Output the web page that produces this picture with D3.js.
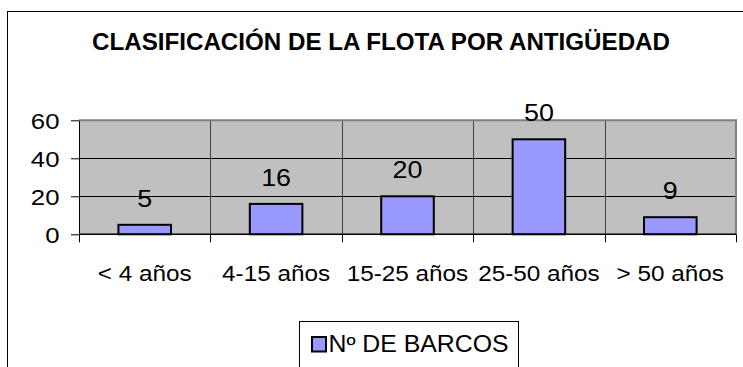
<!DOCTYPE html>
<html>
<head>
<meta charset="utf-8">
<script src="https://cdn.jsdelivr.net/npm/d3@7/dist/d3.min.js"></script>
<style>
  html, body { margin: 0; padding: 0; background: #fff; }
  svg { display: block; font-family: Arial, "Liberation Sans", sans-serif; }
</style>
</head>
<body>
<svg id="chart" width="743" height="367"></svg>
<script>
// Fleet classification by age
const chartTitle = "CLASIFICACIÓN DE LA FLOTA POR ANTIGÜEDAD";
const categories = ["< 4 años", "4-15 años", "15-25 años", "25-50 años", "> 50 años"];
const barcos = [5, 16, 20, 50, 9];
const seriesName = "Nº DE BARCOS";
const yTicks = [0, 20, 40, 60];

const svg = d3.select("#chart");

const plot = { left: 79, right: 736, top: 120.3, bottom: 234.3 };

const x = d3.scaleBand()
  .domain(categories)
  .range([plot.left, plot.right])
  .paddingInner(0.6)
  .paddingOuter(0.3);

const y = d3.scaleLinear()
  .domain([0, 60])
  .range([plot.bottom, plot.top]);

function label(parent, px, py, txt, size, sx, anchor) {
  return parent.append("text")
    .attr("transform", `translate(${px},${py}) scale(${sx},1)`)
    .attr("text-anchor", anchor)
    .attr("font-size", size)
    .attr("fill", "#000")
    .text(txt);
}

// chart frame
svg.append("rect")
  .attr("x", 7.5).attr("y", 11.5)
  .attr("width", 800).attr("height", 400)
  .attr("fill", "#fff").attr("stroke", "#000").attr("stroke-width", 1);

// title
svg.append("text")
  .attr("x", 92).attr("y", 49.5)
  .attr("font-size", 23).attr("font-weight", "bold")
  .attr("textLength", 578).attr("lengthAdjust", "spacingAndGlyphs")
  .text(chartTitle);

// plot background
svg.append("rect")
  .attr("x", plot.left).attr("y", plot.top)
  .attr("width", plot.right - plot.left).attr("height", plot.bottom - plot.top)
  .attr("fill", "#C0C0C0");

// horizontal gridlines
svg.append("g").selectAll("line")
  .data(yTicks.filter(d => d > 0 && d < 60))
  .join("line")
  .attr("x1", plot.left).attr("x2", plot.right)
  .attr("y1", d => Math.round(y(d)) + 0.5).attr("y2", d => Math.round(y(d)) + 0.5)
  .attr("stroke", "#000").attr("stroke-width", 1);

// category boundaries
const bounds = d3.range(categories.length + 1).map(i => x.range()[0] + i * x.step());
svg.append("g").selectAll("line")
  .data(bounds.slice(1, -1))
  .join("line")
  .attr("x1", d => Math.round(d) + 0.5).attr("x2", d => Math.round(d) + 0.5)
  .attr("y1", plot.top).attr("y2", plot.bottom)
  .attr("stroke", "#404040").attr("stroke-width", 1);

// plot border (top / right)
svg.append("path")
  .attr("d", `M${plot.left},${plot.top} H${plot.right} V${plot.bottom}`)
  .attr("fill", "none").attr("stroke", "#808080").attr("stroke-width", 2);

// bars
svg.append("g").selectAll("rect")
  .data(barcos)
  .join("rect")
  .attr("x", (d, i) => x(categories[i]))
  .attr("y", d => y(d))
  .attr("width", x.bandwidth())
  .attr("height", d => y(0) - y(d))
  .attr("fill", "#9999FF")
  .attr("stroke", "#000").attr("stroke-width", 2);

// y axis
const yAxis = svg.append("g")
  .attr("transform", `translate(${plot.left},0)`)
  .call(d3.axisLeft(y).tickValues(yTicks).tickSize(8).tickSizeOuter(0).tickFormat(d3.format("d")));
yAxis.select(".domain").attr("stroke", "#000");
yAxis.selectAll(".tick line").attr("stroke", "#000");
yAxis.selectAll(".tick text")
  .attr("x", null).attr("dy", null)
  .attr("transform", "translate(-19.5,8.5) scale(1.12,1)")
  .attr("font-size", 23).attr("fill", "#000");
yAxis.attr("font-family", null).attr("font-size", null);

// x axis line and boundary ticks
svg.append("line")
  .attr("x1", plot.left).attr("x2", plot.right)
  .attr("y1", plot.bottom).attr("y2", plot.bottom)
  .attr("stroke", "#000").attr("stroke-width", 1.5);
svg.append("g").selectAll("line")
  .data(bounds)
  .join("line")
  .attr("x1", d => Math.round(d) + 0.5).attr("x2", d => Math.round(d) + 0.5)
  .attr("y1", plot.bottom).attr("y2", plot.bottom + 8)
  .attr("stroke", "#000").attr("stroke-width", 1);

// category labels
const xl = svg.append("g");
categories.forEach(c => label(xl, x(c) + x.bandwidth() / 2, 280.5, c, 22.5, 1.08, "middle"));

// value labels
const vl = svg.append("g");
barcos.forEach((v, i) => label(vl, x(categories[i]) + x.bandwidth() / 2, y(v) - 18, String(v), 24, 1.12, "middle"));

// legend
const lg = svg.append("g");
lg.append("rect")
  .attr("x", 299.5).attr("y", 321.5)
  .attr("width", 219).attr("height", 80)
  .attr("fill", "#fff").attr("stroke", "#000").attr("stroke-width", 1);
lg.append("rect")
  .attr("x", 312).attr("y", 337)
  .attr("width", 14).attr("height", 14.5)
  .attr("fill", "#9999FF").attr("stroke", "#000").attr("stroke-width", 2);
lg.append("text")
  .attr("x", 328.5).attr("y", 352)
  .attr("font-size", 23)
  .attr("textLength", 180).attr("lengthAdjust", "spacingAndGlyphs")
  .text(seriesName);
</script>
</body>
</html>
